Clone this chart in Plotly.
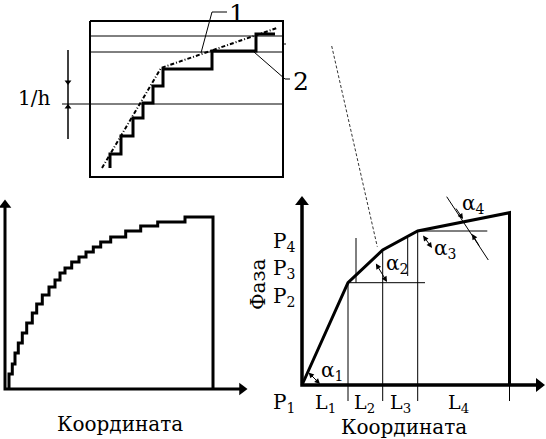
import plotly.graph_objects as go

# --- inset (top) : staircase vs. piecewise line ---
inset_box_x = [90, 283, 283, 90, 90]
inset_box_y = [21, 21, 177, 177, 21]
inset_steps_x = [110, 110, 121, 121, 133, 133, 143, 143, 153, 153, 163, 163, 212, 212, 256, 256, 275]
inset_steps_y = [168, 154, 154, 136, 136, 118, 118, 103, 103, 86, 86, 69, 69, 51, 51, 34, 34]
inset_dashed_x = [102, 161, 277]
inset_dashed_y = [168, 68, 28]
inset_levels_y = [36, 52, 104]
inset_levels_x0 = [90, 90, 62]

# --- bottom-left : fine staircase ---
left_steps_x = [9, 9, 12.3, 12.3, 15, 15, 18.3, 18.3, 22.3, 22.3, 26.7, 26.7, 32.3, 32.3, 36.7, 36.7,
                42.3, 42.3, 49, 49, 55, 55, 60, 60, 65, 65, 71.7, 71.7, 79, 79, 86, 86, 93.3, 93.3,
                100.7, 100.7, 110.7, 110.7, 125.7, 125.7, 140.7, 140.7, 157.7, 157.7, 185, 185, 213, 213]
left_steps_y = [389, 374, 374, 364, 364, 353, 353, 343, 343, 333, 333, 323, 323, 313, 313, 304,
                304, 295, 295, 287, 287, 280, 280, 273, 273, 268, 268, 262, 262, 257, 257, 252, 252, 247,
                247, 242, 242, 237, 237, 231, 231, 226, 226, 222, 222, 217, 217, 389]

# --- bottom-right : phase vs coordinate ---
phase_x = [302, 348, 382.7, 417.7, 509.5, 509.5]
phase_y = [385, 282.7, 250, 231, 212.7, 385]
seg_ticks_x = [348, 382.7, 417.7, 509.5]
seg_ticks_top = [282.7, 250, 231, 385]
seg_labels = ["L<sub>1</sub>", "L<sub>2</sub>", "L<sub>3</sub>", "L<sub>4</sub>"]
seg_label_x = [325, 364, 400, 458]
p_labels = ["P<sub>4</sub>", "P<sub>3</sub>", "P<sub>2</sub>", "P<sub>1</sub>"]
p_label_y = [242, 269, 297, 403]

BLACK = "black"
FONT = "DejaVu Serif"

fig = go.Figure()


def line(x, y, width=1, dash=None):
    fig.add_trace(go.Scatter(x=x, y=y, mode="lines",
                             line=dict(color=BLACK, width=width, dash=dash),
                             hoverinfo="skip", showlegend=False))


def tri(x, y, symbol, size=11):
    fig.add_trace(go.Scatter(x=[x], y=[y], mode="markers",
                             marker=dict(symbol=symbol, size=size, color=BLACK),
                             hoverinfo="skip", showlegend=False))


def text(x, y, s, size=20, angle=0):
    fig.add_annotation(x=x, y=y, text=s, showarrow=False, textangle=angle,
                       font=dict(family=FONT, size=size, color=BLACK))


def arrow(x, y, ax, ay, both=False):
    fig.add_annotation(x=x, y=y, ax=ax, ay=ay, xref="x", yref="y", axref="x", ayref="y",
                       text="", showarrow=True, arrowhead=2, arrowsize=1.1, arrowwidth=1,
                       arrowcolor=BLACK, arrowside="end+start" if both else "end")


# inset
for y0, x0 in zip(inset_levels_y, inset_levels_x0):
    line([x0, 283], [y0, y0], 1)
line([283, 286], [44, 44], 1)
line(inset_box_x, inset_box_y, 2)
line(inset_steps_x, inset_steps_y, 3)
line(inset_dashed_x, inset_dashed_y, 2, dash="4px,2px,1px,2px")
line([201, 212, 227], [53, 12, 12], 1)
line([254, 285, 290], [52, 79, 79], 1)
text(237, 13, "1", 25)
text(301, 81, "2", 25)
line([68, 68], [50, 139], 1.5)
tri(68, 82, "triangle-down", 6)
tri(68, 107, "triangle-up", 6)
text(34, 98, "1/h", 20)

# bottom-left
line([5, 5, 244], [204, 389, 389], 3)
tri(5, 205, "triangle-up")
tri(242, 389, "triangle-right")
line(left_steps_x, left_steps_y, 3)
text(120, 424, "Координата", 20)

# leader to right chart
line([331.7, 377.3], [46, 246.7], 0.8, dash="3px,2px")

# bottom-right thin construction lines
for x, top in zip(seg_ticks_x, seg_ticks_top):
    line([x, x], [top, 401], 1)
line([356, 356], [238, 282.7], 1)
line([407.7, 407.7], [238, 276], 1)
line([348, 425], [282.7, 282.7], 1)
line([417.7, 487.3], [231, 231], 1)
line([446.7, 488.3], [196.7, 260], 1)

line([302, 302, 540], [201, 385, 385], 3.5)
tri(302, 202, "triangle-up", 12)
tri(539, 385, "triangle-right", 12)
line(phase_x, phase_y, 3)

arrow(320, 384, 307, 371, both=True)
arrow(387, 282, 375, 262, both=True)
arrow(432, 248, 422, 234, both=True)
arrow(463, 219, 455, 207)
arrow(472, 234, 480, 247)

text(332, 371, "α<sub>1</sub>")
text(397, 264, "α<sub>2</sub>")
text(445, 249, "α<sub>3</sub>")
text(473, 204, "α<sub>4</sub>")
for s, y in zip(p_labels, p_label_y):
    text(284, y, s)
for s, x in zip(seg_labels, seg_label_x):
    text(x, 403, s, 19)
text(258, 285, "Фаза", 20, angle=-90)
text(404, 427, "Координата", 20)

fig.update_layout(
    width=546, height=439,
    margin=dict(l=0, r=0, t=0, b=0),
    paper_bgcolor="white", plot_bgcolor="white",
    xaxis=dict(range=[0, 546], visible=False, fixedrange=True),
    yaxis=dict(range=[439, 0], visible=False, fixedrange=True),
)

# drop the default 8px page margin so the figure lines up with the window
fig.write_html("out.html", config={"displayModeBar": False},
               post_script="document.body.style.margin='0px';")
